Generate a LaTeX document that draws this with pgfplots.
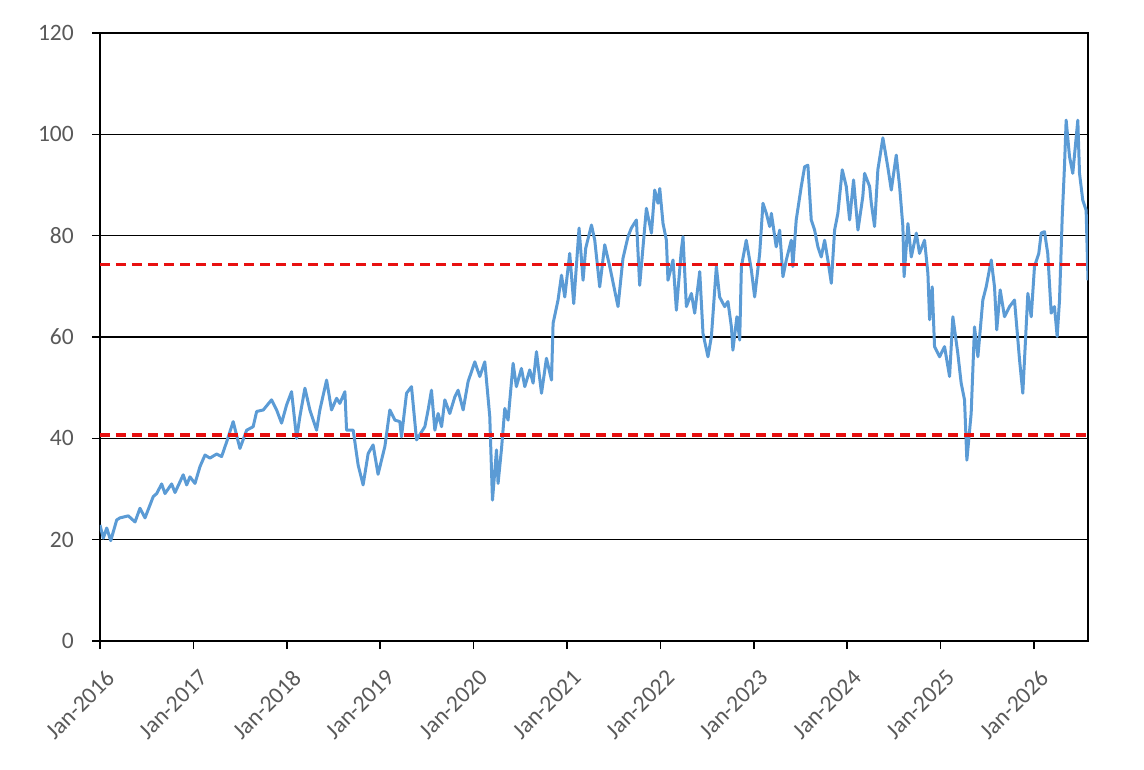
\documentclass[border=0pt]{standalone}
\usepackage{pgfplots}
\pgfplotsset{compat=1.18}
\usepackage{fontspec}
\setmainfont{Carlito}
\definecolor{lineblue}{HTML}{5B9BD5}
\definecolor{tickgray}{HTML}{595959}
\definecolor{dashred}{HTML}{E81010}
\begin{document}
\begin{tikzpicture}
\path[use as bounding box] (-100pt,-128pt) rectangle (1044pt,641pt);
\begin{axis}[
  at={(0pt,0pt)}, anchor=south west,
  scale only axis, width=988pt, height=608pt,
  xmin=0, xmax=10.578, ymin=0, ymax=120,
  xtick={0,1,2,3,4,5,6,7,8,9,10},
  xticklabels={Jan-2016,Jan-2017,Jan-2018,Jan-2019,Jan-2020,Jan-2021,Jan-2022,Jan-2023,Jan-2024,Jan-2025,Jan-2026},
  ytick={0,20,40,60,80,100,120},
  tick align=outside, major tick length=8pt,
  xtick pos=bottom, ytick pos=left,
  tick style={black, line width=1.5pt},
  ymajorgrids, grid style={black, line width=1.5pt},
  axis line style={black, line width=1.8pt},
  /pgf/number format/assume math mode=true,
  tick label style={font=\fontsize{23.5}{28}\selectfont, text=tickgray},
  xticklabel style={xshift=4.5pt, yshift=-18pt, rotate=45, anchor=north east, inner sep=1pt},
  yticklabel style={anchor=east, inner sep=0pt, xshift=-18pt},
]
\addplot[lineblue, line width=3pt, line join=round] coordinates {
(0.000,22.9) (0.035,20.3) (0.072,22.3) (0.115,19.8) (0.179,23.9) (0.214,24.3) (0.303,24.7) (0.375,23.5) (0.428,26.2) (0.482,24.3)
(0.570,28.5) (0.607,29.1) (0.660,31.0) (0.696,29.1) (0.767,31.0) (0.803,29.3) (0.891,32.8) (0.928,30.8) (0.963,32.4) (1.017,31.1)
(1.070,34.4) (1.124,36.7) (1.177,36.1) (1.249,36.9) (1.302,36.4) (1.356,39.3) (1.426,43.3) (1.498,38.0) (1.570,41.6) (1.640,42.3)
(1.677,45.3) (1.748,45.6) (1.837,47.6) (1.891,45.6) (1.944,43.0) (1.998,46.6) (2.051,49.2) (2.105,40.0) (2.140,44.3) (2.194,49.9)
(2.247,45.6) (2.319,41.6) (2.354,45.6) (2.426,51.5) (2.479,45.6) (2.533,47.9) (2.568,46.9) (2.622,49.2) (2.640,41.6) (2.711,41.6)
(2.764,34.7) (2.817,30.8) (2.871,37.0) (2.924,38.7) (2.977,32.9) (3.050,38.4) (3.103,45.6) (3.157,43.6) (3.210,43.3) (3.228,40.3)
(3.282,48.9) (3.335,50.2) (3.389,39.7) (3.478,42.3) (3.513,45.6) (3.549,49.5) (3.585,41.6) (3.620,44.9) (3.657,42.3) (3.692,47.6)
(3.745,44.9) (3.799,48.2) (3.834,49.5) (3.888,45.6) (3.941,51.2) (4.013,55.1) (4.066,52.2) (4.120,55.1) (4.173,44.3) (4.202,27.8)
(4.245,37.7) (4.262,31.1) (4.299,38.0) (4.334,45.9) (4.369,43.6) (4.423,54.8) (4.458,50.2) (4.512,53.8) (4.548,50.2) (4.601,53.5)
(4.637,50.9) (4.673,57.1) (4.727,48.9) (4.780,55.8) (4.834,51.5) (4.851,62.7) (4.904,67.3) (4.941,72.2) (4.976,67.9) (5.029,76.5)
(5.072,66.6) (5.129,81.5) (5.172,71.2) (5.200,77.5) (5.262,82.1) (5.297,79.1) (5.350,69.9) (5.404,78.2) (5.458,73.9) (5.546,66.0)
(5.599,75.5) (5.653,79.8) (5.689,81.5) (5.743,83.1) (5.778,70.2) (5.850,85.4) (5.904,80.5) (5.939,89.0) (5.974,86.4) (5.993,89.3)
(6.028,82.4) (6.064,79.1) (6.081,71.2) (6.135,75.2) (6.171,65.3) (6.224,77.2) (6.242,79.8) (6.278,66.0) (6.332,68.6) (6.367,64.7)
(6.421,72.9) (6.456,60.7) (6.509,56.1) (6.546,60.1) (6.599,73.9) (6.634,67.9) (6.688,66.0) (6.723,67.0) (6.760,62.0) (6.776,57.4)
(6.819,64.0) (6.849,59.4) (6.867,73.9) (6.919,79.1) (6.974,73.2) (7.009,67.9) (7.063,76.5) (7.098,86.4) (7.134,84.4) (7.170,81.8)
(7.188,84.4) (7.240,77.8) (7.277,81.1) (7.312,71.9) (7.348,75.2) (7.401,79.1) (7.418,73.9) (7.454,83.1) (7.508,89.7) (7.544,93.6)
(7.579,93.9) (7.615,83.1) (7.651,81.1) (7.686,77.8) (7.722,75.8) (7.758,79.1) (7.793,75.2) (7.830,70.6) (7.865,81.1) (7.900,84.4)
(7.947,93.0) (7.990,89.7) (8.026,83.1) (8.068,91.0) (8.115,81.1) (8.167,87.7) (8.186,92.3) (8.240,89.7) (8.258,86.4) (8.293,81.8)
(8.328,93.0) (8.382,99.3) (8.435,93.5) (8.472,89.0) (8.525,95.9) (8.561,89.7) (8.596,81.8) (8.609,71.9) (8.650,82.4) (8.686,75.8)
(8.740,80.5) (8.774,76.5) (8.828,79.1) (8.864,72.5) (8.882,63.4) (8.910,69.9) (8.935,58.1) (8.989,56.1) (9.042,58.1) (9.096,52.2)
(9.131,64.0) (9.184,56.8) (9.220,50.9) (9.256,47.6) (9.281,35.7) (9.327,44.9) (9.363,62.0) (9.399,56.1) (9.452,67.3) (9.488,69.9)
(9.542,75.2) (9.577,69.9) (9.601,61.4) (9.638,69.3) (9.684,64.0) (9.738,66.0) (9.791,67.3) (9.809,63.4) (9.845,55.5) (9.880,48.9)
(9.934,68.6) (9.970,64.0) (10.005,73.9) (10.051,76.5) (10.077,80.5) (10.112,80.8) (10.147,76.5) (10.184,64.7) (10.219,66.0) (10.248,60.1)
(10.273,67.3) (10.302,83.7) (10.326,93.6) (10.344,102.8) (10.380,95.6) (10.415,92.3) (10.469,102.8) (10.487,92.3) (10.522,87.0) (10.558,85.0)
(10.578,71.2)
};
\addplot[dashred, line width=3.5pt, dash pattern=on 10pt off 6pt] coordinates {(0,74.3) (10.578,74.3)};
\addplot[dashred, line width=3.5pt, dash pattern=on 10pt off 6pt] coordinates {(0,40.7) (10.578,40.7)};
\end{axis}
\end{tikzpicture}
\end{document}
